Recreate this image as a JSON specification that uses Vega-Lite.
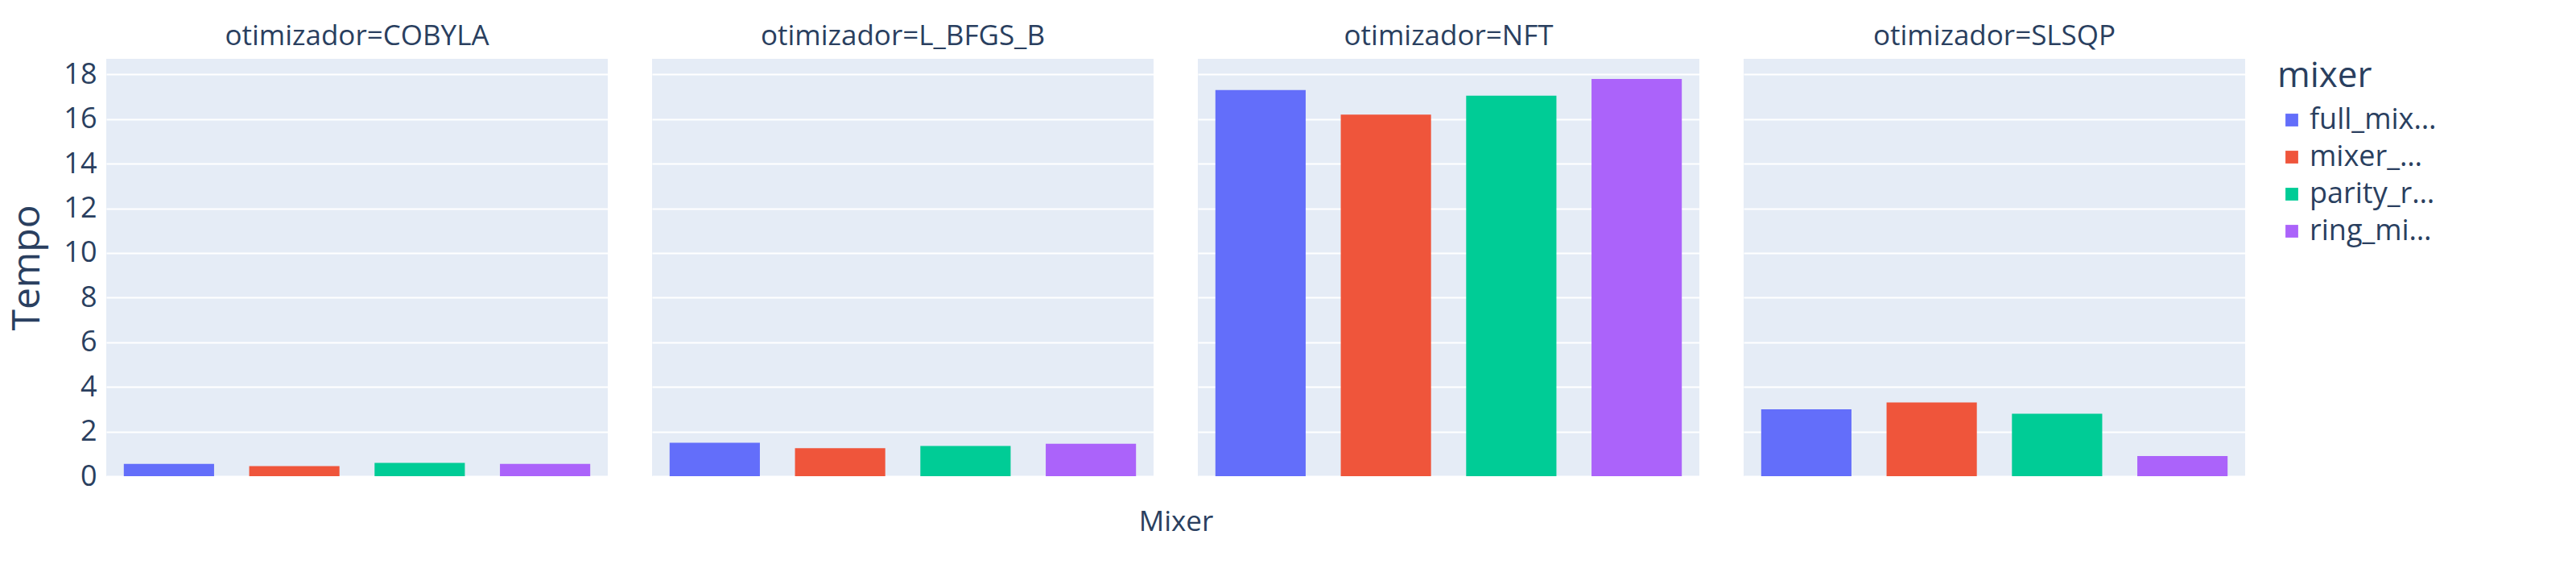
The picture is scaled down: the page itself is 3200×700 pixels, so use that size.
{
  "$schema": "https://vega.github.io/schema/vega-lite/v6.json",
  "padding": {"left": 10, "top": 28, "right": 10, "bottom": 10},
  "background": "white",
  "config": {
    "font": "Open Sans",
    "view": {"fill": "#E5ECF6", "stroke": null},
    "axis": {"domain": false, "ticks": false, "gridColor": "white", "gridWidth": 2, "labelColor": "#2a3f5f", "titleColor": "#2a3f5f", "labelFont": "Open Sans", "titleFont": "Open Sans"},
    "legend": {"labelColor": "#2a3f5f", "titleColor": "#2a3f5f"},
    "header": {"labelColor": "#2a3f5f", "titleColor": "#2a3f5f"}
  },
  "data": {
    "values": [
      {"otimizador": "COBYLA", "mixer": "full_mixer", "Tempo": 0.55},
      {"otimizador": "COBYLA", "mixer": "mixer_default", "Tempo": 0.45},
      {"otimizador": "COBYLA", "mixer": "parity_ring_mixer", "Tempo": 0.6},
      {"otimizador": "COBYLA", "mixer": "ring_mixer", "Tempo": 0.55},
      {"otimizador": "L_BFGS_B", "mixer": "full_mixer", "Tempo": 1.5},
      {"otimizador": "L_BFGS_B", "mixer": "mixer_default", "Tempo": 1.25},
      {"otimizador": "L_BFGS_B", "mixer": "parity_ring_mixer", "Tempo": 1.35},
      {"otimizador": "L_BFGS_B", "mixer": "ring_mixer", "Tempo": 1.45},
      {"otimizador": "NFT", "mixer": "full_mixer", "Tempo": 17.3},
      {"otimizador": "NFT", "mixer": "mixer_default", "Tempo": 16.2},
      {"otimizador": "NFT", "mixer": "parity_ring_mixer", "Tempo": 17.05},
      {"otimizador": "NFT", "mixer": "ring_mixer", "Tempo": 17.8},
      {"otimizador": "SLSQP", "mixer": "full_mixer", "Tempo": 3.0},
      {"otimizador": "SLSQP", "mixer": "mixer_default", "Tempo": 3.3},
      {"otimizador": "SLSQP", "mixer": "parity_ring_mixer", "Tempo": 2.8},
      {"otimizador": "SLSQP", "mixer": "ring_mixer", "Tempo": 0.9}
    ]
  },
  "facet": {
    "column": {
      "field": "otimizador",
      "type": "nominal",
      "title": "Mixer",
      "header": {
        "titleOrient": "bottom",
        "labelOrient": "top",
        "labelExpr": "'otimizador=' + datum.value",
        "labelFontSize": 35,
        "titleFontSize": 35,
        "titleFontWeight": "normal",
        "labelPadding": 10,
        "titlePadding": 30
      }
    }
  },
  "spacing": 55,
  "spec": {
    "width": 623,
    "height": 518,
    "mark": {"type": "bar", "width": {"band": 0.8}},
    "encoding": {
      "x": {"field": "mixer", "type": "nominal", "axis": {"labels": false, "title": null, "grid": false}},
      "y": {
        "field": "Tempo",
        "type": "quantitative",
        "scale": {"domain": [0, 18.7], "nice": false},
        "axis": {"values": [0, 2, 4, 6, 8, 10, 12, 14, 16, 18], "labelFontSize": 36, "titleFontSize": 48, "titleFontWeight": "normal", "labelPadding": 12, "titlePadding": 20}
      },
      "color": {
        "field": "mixer",
        "type": "nominal",
        "scale": {"range": ["#636EFA", "#EF553B", "#00CC96", "#AB63FA"]},
        "legend": {"titleFontSize": 44, "titleFontWeight": "normal", "labelFontSize": 36, "symbolType": "square", "symbolSize": 250, "rowPadding": 10, "offset": 40, "titlePadding": 14}
      }
    }
  }
}
